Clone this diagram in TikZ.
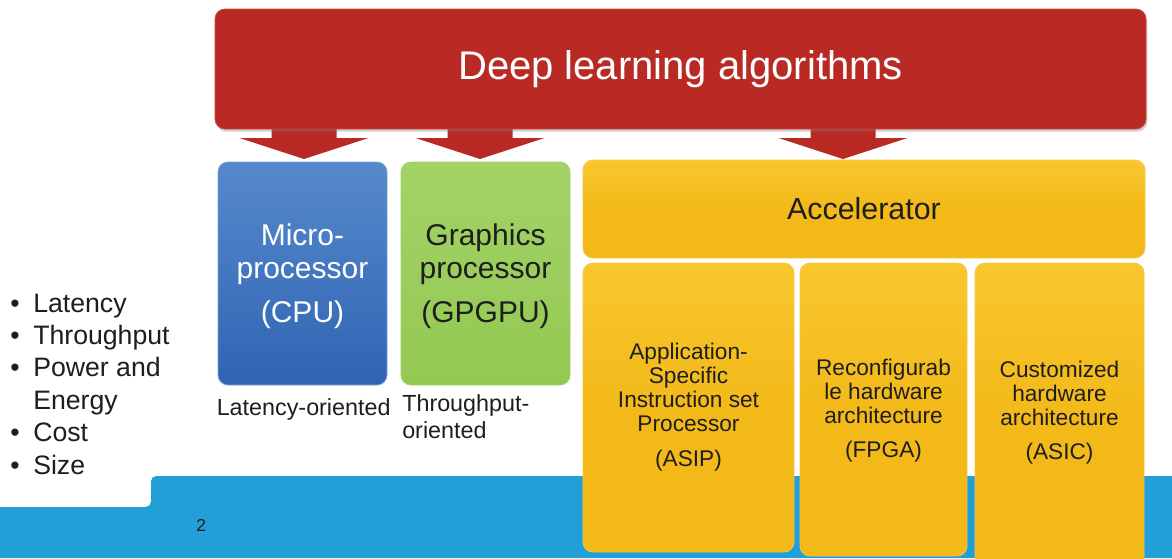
\documentclass[tikz,border=0pt]{standalone}
\usepackage{fontspec}
\setmainfont{Liberation Sans}
\usetikzlibrary{shadows}
\definecolor{dlred}{HTML}{B92A24}
\definecolor{dlredhi}{HTML}{D0473C}
\definecolor{cpuTop}{HTML}{5689CB}
\definecolor{cpuBot}{HTML}{3064B3}
\definecolor{gpuC}{HTML}{93C852}
\definecolor{gpuTop}{HTML}{A3D366}
\definecolor{accC}{HTML}{F3B919}
\definecolor{accTop}{HTML}{F8C72E}
\definecolor{band}{HTML}{239FD8}
\definecolor{ink}{HTML}{1E1E1E}
\tikzset{
  panel/.style={rounded corners=7.5pt, inner sep=0pt, line width=0.6pt},
  redpanel/.style={panel, fill=dlred, draw=dlredhi,
     drop shadow={opacity=0.35, shadow xshift=1pt, shadow yshift=-2pt},
     text=white, font=\fontsize{30}{36}\selectfont},
  cpupanel/.style={panel, top color=cpuTop, bottom color=cpuBot, draw=cpuTop!80!white},
  gpupanel/.style={panel, top color=gpuTop, bottom color=gpuC, draw=gpuC!85!white},
  bigtext/.style={inner sep=0pt, align=center, font=\fontsize{22.5}{24.75}\selectfont},
  accpanel/.style={panel, top color=accTop, bottom color=accC, middle color=accC, draw=accC!80!white,
     text=ink, align=center, font=\fontsize{22.8}{25}\selectfont},
  subpanel/.style={panel, top color=accTop, bottom color=accC, middle color=accC, draw=accC!80!white},
  subtext/.style={inner sep=0pt, text=ink, align=center, font=\fontsize{17}{18}\selectfont},
  bullet/.style={anchor=base west, inner sep=0pt, text=ink, font=\fontsize{20}{24}\selectfont},
  caption/.style={anchor=base west, inner sep=0pt, text=ink, font=\fontsize{17.5}{19.5}\selectfont},
  pagenum/.style={anchor=base west, inner sep=0pt, text=ink, font=\fontsize{13}{15}\selectfont},
  downarrow/.pic={\fill[dlred] (-32.5,-8) -- (-32.5,9) -- (-64.5,9) -- (0,30) -- (64.5,9) -- (32.5,9) -- (32.5,-8) -- cycle;}
}
\newcommand{\bl}{\makebox[17.25pt][l]{\textbullet}}
\begin{document}
\begin{tikzpicture}[x=0.75pt,y=-0.75pt]
\useasboundingbox (0,0) rectangle (1172,558);
\clip (0,0) rectangle (1172,558);
\fill[white] (0,0) rectangle (1172,558);
% background band
\fill[band] (0,558) -- (0,507) [rounded corners=4pt] -- (151,507) -- (151,476) [sharp corners] -- (1172,476) -- (1172,558) -- cycle;
\node[pagenum] (page) at (196,531.5) {2};
% arrows
\pic at (304,129) {downarrow};
\pic at (480,129) {downarrow};
\pic at (843,129) {downarrow};
% title
\node[redpanel, minimum width=698.25pt, minimum height=90pt] (dl) at (680.5,69) {Deep learning algorithms};
% processors
\node[cpupanel, minimum width=126.75pt, minimum height=167.25pt] (cpu) at (302.5,273.5) {};
\node[bigtext, text=white] (cput) at (302.5,276.5) {Micro-\\processor\\[8.25pt](CPU)};
\node[gpupanel, minimum width=126.75pt, minimum height=167.25pt] (gpu) at (485.5,273.5) {};
\node[bigtext, text=ink] (gput) at (485.5,276.5) {Graphics\\processor\\[8.25pt](GPGPU)};
% accelerator
\node[accpanel, minimum width=421.5pt, minimum height=73.5pt] (acc) at (864,209) {Accelerator};
\node[subpanel, minimum width=158.25pt, minimum height=216.75pt] (asip) at (688.5,407.5) {};
\node[subtext] (asipt) at (688.5,407) {Application-\\Specific\\Instruction set\\Processor\\[8pt](ASIP)};
\node[subpanel, minimum width=125.25pt, minimum height=219.75pt] (fpga) at (883.5,409.5) {};
\node[subtext] (fpgat) at (883.5,411) {Reconfigurab\\le hardware\\architecture\\[7.5pt](FPGA)};
\node[subpanel, minimum width=126.75pt, minimum height=230.25pt] (asic) at (1059.5,416.5) {};
\node[subtext] (asict) at (1059.5,412.5) {Customized\\hardware\\architecture\\[7.5pt](ASIC)};
% captions
\node[caption] (lat) at (216.5,415) {Latency-oriented};
\node[caption] (thr1) at (402,411.7) {Throughput-};
\node[caption] (thr2) at (402,438) {oriented};
% criteria
\node[bullet] (c1) at (10,312) {\bl Latency};
\node[bullet] (c2) at (10,344.4) {\bl Throughput};
\node[bullet] (c3) at (10,376.8) {\bl Power and};
\node[bullet] (c4) at (33,409.2) {Energy};
\node[bullet] (c5) at (10,441.6) {\bl Cost};
\node[bullet] (c6) at (10,474) {\bl Size};
\end{tikzpicture}
\end{document}
